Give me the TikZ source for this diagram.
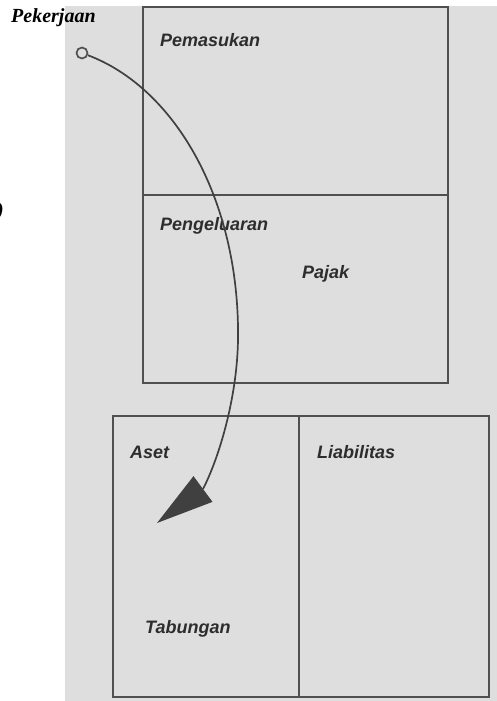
\documentclass[tikz,border=0pt]{standalone}
\usepackage{fontspec}
\setmainfont{Liberation Serif}
\newfontfamily\labelfont{Liberation Sans}
\usetikzlibrary{positioning, calc}

\definecolor{paper}{RGB}{222,222,222}
\definecolor{ink}{RGB}{80,80,80}
\definecolor{lbl}{RGB}{45,45,45}

\begin{document}
\begin{tikzpicture}[x=1pt, y=-1pt,
    box/.style={rectangle, draw=ink, line width=1.5pt,
                inner sep=0pt, outer sep=0pt},
    wide/.style={box, minimum width=305pt, minimum height=188pt},
    half/.style={box, minimum height=281pt},
    tag/.style={anchor=base west, inner sep=0pt, text=lbl,
                font=\labelfont\bfseries\itshape\fontsize{18}{18}\selectfont},
    title/.style={anchor=base west, inner sep=0pt,
                  font=\bfseries\itshape\fontsize{20}{20}\selectfont},
    flow/.style={draw=ink!80!black, line width=1.7pt}
]
  \useasboundingbox (0,0) rectangle (497,701);
  \fill[paper] (65,6) rectangle (497,701);

  % budget boxes
  \node[wide, anchor=north west] (income) at (143,7) {};
  \node[wide, below=0pt of income] (expense) {};
  \node[half, minimum width=186pt, anchor=north west] (assets) at (113,416) {};
  \node[half, minimum width=190pt, right=0pt of assets] (liabs) {};

  % labels
  \node[tag] (inlbl) at ($(income.north west)+(17,40)$) {Pemasukan};
  \node[tag] (exlbl) at ($(expense.north west)+(17,35)$) {Pengeluaran};
  \node[tag] (tax) at ($(expense.north west)+(159,83)$) {Pajak};
  \node[tag] (aslbl) at ($(assets.north west)+(17,42)$) {Aset};
  \node[tag] (lilbl) at ($(liabs.north west)+(18,42)$) {Liabilitas};
  \node[tag] (save) at ($(assets.north west)+(32,217)$) {Tabungan};

  \node[title] (job) at (11,23) {Pekerjaan};
  \node[anchor=east, inner sep=0pt,
        font=\bfseries\itshape\fontsize{20}{20}\selectfont] (cut) at (4,212) {)};

  % flow from job into assets
  \node[circle, draw=ink, line width=1.7pt, minimum size=11pt, inner sep=0pt] (src) at (82,53) {};
  \coordinate (head) at (203,489);
  \coordinate (tip) at (157,523);
  \draw[flow] (src) .. controls (175,88) and (240,200) .. (238,340)
                    .. controls (237,400) and (218,460) .. (head);
  \fill[ink!80!black] ($(head)!16pt!90:(tip)$) -- (tip) -- ($(head)!16pt!-90:(tip)$) -- cycle;
\end{tikzpicture}
\end{document}
